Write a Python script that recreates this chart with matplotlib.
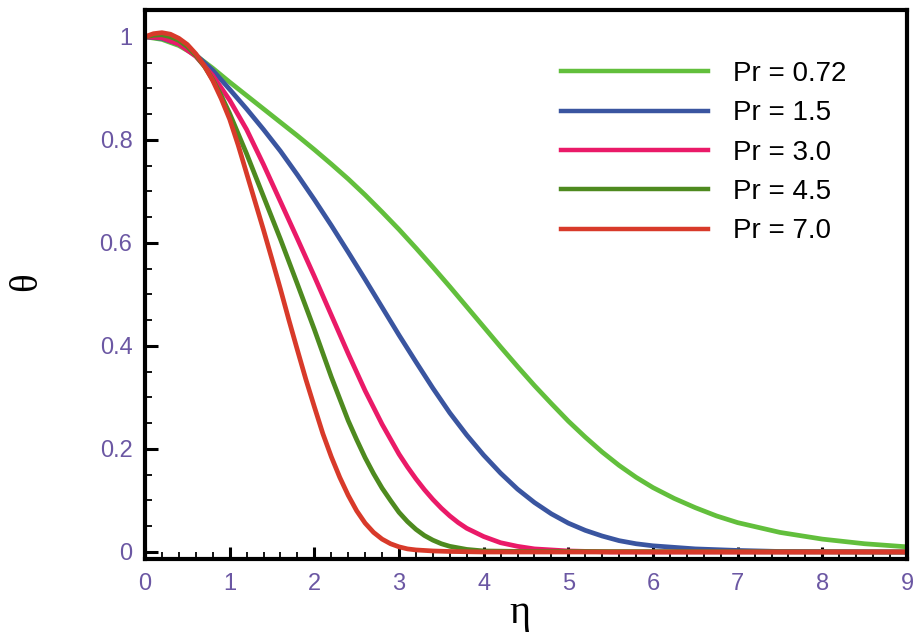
import matplotlib
matplotlib.use("Agg")
import matplotlib.pyplot as plt
from matplotlib.ticker import MultipleLocator

# ---- data ----
eta_red = [0, 0.1, 0.2, 0.3, 0.4, 0.5, 0.6, 0.7, 0.8, 0.9, 1.0, 1.1, 1.2, 1.3, 1.4, 1.5, 1.6, 1.7, 1.8, 1.9,
           2.0, 2.1, 2.2, 2.3, 2.4, 2.5, 2.6, 2.7, 2.8, 2.9, 3.0, 3.1, 3.2, 3.4, 3.6, 4.0, 9.0]
theta_red = [1.0, 1.006, 1.008, 1.005, 0.997, 0.985, 0.967, 0.944, 0.915, 0.88, 0.84, 0.79, 0.735, 0.68, 0.625,
             0.568, 0.51, 0.45, 0.392, 0.335, 0.282, 0.23, 0.185, 0.145, 0.11, 0.08, 0.056, 0.038, 0.025, 0.016,
             0.01, 0.006, 0.004, 0.002, 0.001, 0.0, 0.0]

eta_olive = [0, 0.1, 0.2, 0.3, 0.4, 0.5, 0.6, 0.7, 0.8, 0.9, 1.0, 1.2, 1.4, 1.6, 1.8, 2.0, 2.2, 2.4, 2.5, 2.6,
             2.7, 2.8, 2.9, 3.0, 3.1, 3.2, 3.3, 3.4, 3.5, 3.6, 3.8, 4.0, 4.5, 9.0]
theta_olive = [1.0, 1.003, 1.004, 1.0, 0.993, 0.981, 0.964, 0.943, 0.917, 0.886, 0.851, 0.773, 0.69, 0.607, 0.52,
               0.432, 0.34, 0.255, 0.218, 0.183, 0.152, 0.124, 0.1, 0.077, 0.059, 0.044, 0.032, 0.023, 0.016,
               0.011, 0.005, 0.002, 0.001, 0.0]

eta_pink = [0, 0.2, 0.4, 0.6, 0.8, 1.0, 1.2, 1.4, 1.6, 1.8, 2.0, 2.2, 2.4, 2.6, 2.8, 3.0, 3.1, 3.2, 3.3, 3.4,
            3.5, 3.6, 3.7, 3.8, 4.0, 4.2, 4.4, 4.6, 5.0, 5.5, 9.0]
theta_pink = [1.0, 0.998, 0.986, 0.962, 0.925, 0.877, 0.82, 0.752, 0.68, 0.608, 0.535, 0.46, 0.385, 0.313, 0.248,
              0.19, 0.165, 0.142, 0.121, 0.102, 0.085, 0.07, 0.057, 0.046, 0.03, 0.018, 0.011, 0.006, 0.002,
              0.0, 0.0]

eta_blue = [0, 0.2, 0.4, 0.6, 0.8, 1.0, 1.2, 1.4, 1.6, 1.8, 2.0, 2.2, 2.4, 2.6, 2.8, 3.0, 3.2, 3.4, 3.6, 3.8,
            4.0, 4.2, 4.4, 4.6, 4.8, 5.0, 5.2, 5.4, 5.6, 5.8, 6.0, 6.5, 7.0, 7.5, 9.0]
theta_blue = [1.0, 0.997, 0.986, 0.965, 0.935, 0.898, 0.86, 0.82, 0.778, 0.732, 0.684, 0.634, 0.582, 0.529, 0.475,
              0.421, 0.369, 0.318, 0.27, 0.227, 0.188, 0.153, 0.122, 0.096, 0.074, 0.056, 0.042, 0.031, 0.022,
              0.016, 0.012, 0.006, 0.003, 0.001, 0.0]

eta_green = [0, 0.2, 0.4, 0.6, 0.8, 1.0, 1.2, 1.4, 1.6, 1.8, 2.0, 2.2, 2.4, 2.6, 2.8, 3.0, 3.2, 3.4, 3.6, 3.8,
             4.0, 4.2, 4.4, 4.6, 4.8, 5.0, 5.2, 5.4, 5.6, 5.8, 6.0, 6.25, 6.5, 6.75, 7.0, 7.5, 8.0, 8.5, 9.0]
theta_green = [1.0, 0.995, 0.983, 0.964, 0.939, 0.912, 0.886, 0.86, 0.834, 0.808, 0.781, 0.753, 0.724, 0.693,
               0.66, 0.626, 0.59, 0.553, 0.515, 0.476, 0.437, 0.398, 0.36, 0.323, 0.288, 0.254, 0.223, 0.194,
               0.168, 0.145, 0.125, 0.104, 0.086, 0.07, 0.057, 0.038, 0.025, 0.016, 0.01]

labels = ["Pr = 0.72", "Pr = 1.5", "Pr = 3.0", "Pr = 4.5", "Pr = 7.0"]
colors = ["#62bf3c", "#3a55a0", "#ea1a68", "#4e8a1f", "#d83a2a"]
x_ticks = [0, 1, 2, 3, 4, 5, 6, 7, 8, 9]
y_ticks = [0, 0.2, 0.4, 0.6, 0.8, 1.0]
y_ticklabels = ["0", "0.2", "0.4", "0.6", "0.8", "1"]

series = [(eta_green, theta_green), (eta_blue, theta_blue), (eta_pink, theta_pink),
          (eta_olive, theta_olive), (eta_red, theta_red)]

fig = plt.figure(figsize=(9.15, 6.42), dpi=100)
ax = fig.add_axes([145 / 915, 1 - 559 / 642, (907 - 145) / 915, (559 - 10) / 642])

for (x, y), c, lab in zip(series, colors, labels):
    ax.plot(x, y, color=c, lw=3.4, label=lab, solid_joinstyle="round")

ax.set_xlim(0, 9)
ax.set_ylim(-0.0136, 1.052)

ax.set_xticks(x_ticks)
ax.set_yticks(y_ticks)
ax.set_yticklabels(y_ticklabels)
ax.xaxis.set_minor_locator(MultipleLocator(0.2))
ax.yaxis.set_minor_locator(MultipleLocator(0.05))

tick_color = "#6b57a3"
ax.tick_params(which="both", direction="in", top=False, right=False,
               color="black", labelcolor=tick_color, labelsize=17)
ax.tick_params(which="major", length=9, width=2.2)
ax.tick_params(which="minor", length=5, width=1.3)
ax.tick_params(axis="x", pad=10)
ax.tick_params(axis="y", pad=9)
for lab in ax.get_xticklabels() + ax.get_yticklabels():
    lab.set_fontfamily("Liberation Sans")

for s in ax.spines.values():
    s.set_linewidth(3.0)
    s.set_color("black")

ax.set_xlabel("η", fontsize=29, family="Liberation Serif", va="center")
ax.xaxis.set_label_coords((520 - 145) / 762, (559 - 613) / 549)
ax.set_ylabel("θ", fontsize=28, family="Liberation Serif", va="center")
ax.yaxis.set_label_coords((27 - 145) / 762, (559 - 282) / 549)

leg = ax.legend(loc="upper left", bbox_to_anchor=(561 / 915, 1 - 61 / 642),
                bbox_transform=fig.transFigure, frameon=False,
                prop={"family": "Liberation Sans", "size": 20},
                handlelength=5.3, handletextpad=0.9, labelspacing=0.48,
                borderpad=0, borderaxespad=0)
for line in leg.get_lines():
    line.set_linewidth(3.2)

fig.savefig("out.png", dpi=100)
